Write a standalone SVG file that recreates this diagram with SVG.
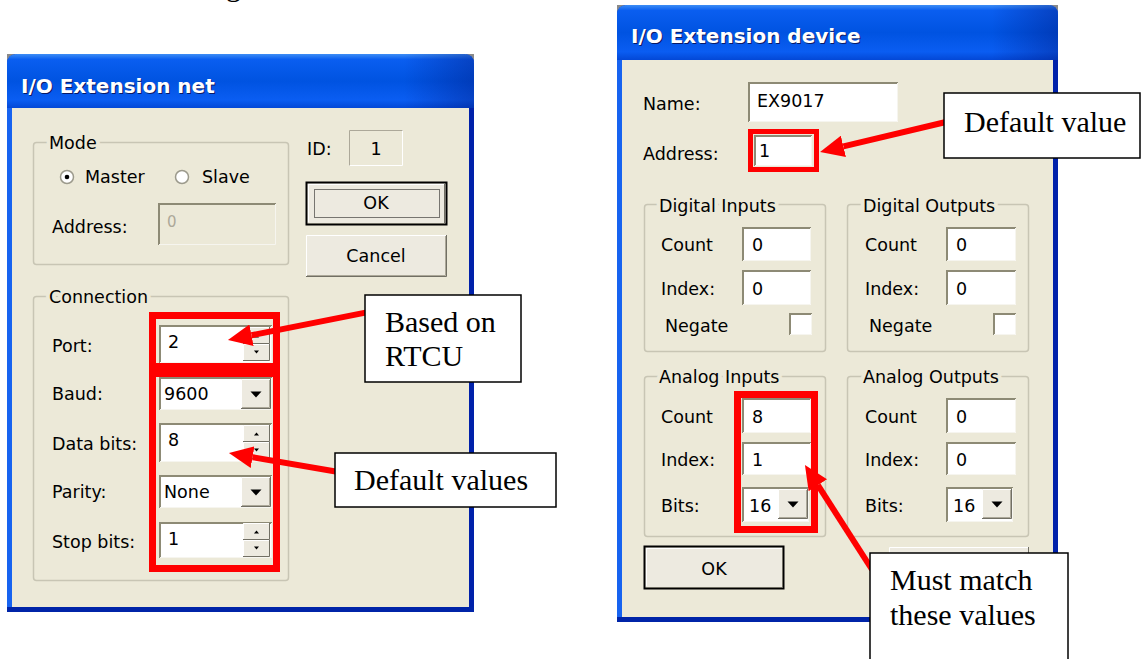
<svg xmlns="http://www.w3.org/2000/svg" xmlns:xlink="http://www.w3.org/1999/xlink" width="1141" height="659" viewBox="0 0 1141 659">
<defs>
<style>
.dlg text{font-family:"DejaVu Sans","Liberation Sans",sans-serif;font-size:17.5px;fill:#000}
.dlg text.ttl{font-weight:bold;font-size:20px;fill:#fff}
.dlg text.tsh{font-weight:bold;font-size:20px;fill:#0A1A66}
.dlg text.dis{fill:#ACA899}
.dlg text.c{text-anchor:middle}
.gl{paint-order:stroke;stroke:#ECE9D8;stroke-width:8px;stroke-linejoin:round}
.frame{fill:#0A48E0}
.fl{fill:#1763F0}
.fr{fill:#0021AA}
.fb{fill:#0024A8}
.body{fill:#ECE9D8}
.corner{fill:#8A8A8A}
.grp{fill:none;stroke:#C8C5B4;stroke-width:1.5}
.ed{fill:#fff}
.edd{fill:#ECE9D8}
.skd{fill:none;stroke:#8D8A75;stroke-width:2}
.skl{fill:none;stroke:#F6F5EF;stroke-width:1}
.bt{fill:#EDEAE0}
.btd{fill:#EDEAE0;stroke:#000;stroke-width:2}
.bhl{fill:none;stroke:#fff;stroke-width:1}
.bsh{fill:none;stroke:#716F64;stroke-width:1}
.bsh2{fill:none;stroke:#ACA899;stroke-width:1}
.tri{fill:#000}
.focus{fill:none;stroke:#000;stroke-width:1;stroke-dasharray:1 1}
.radio{fill:#fff;stroke:#9C9A8C;stroke-width:1.5}
.hl{fill:none;stroke:#FF0000;stroke-width:7}
.hl5{fill:none;stroke:#FF0000;stroke-width:5}
.cn{fill:none;stroke:#FF0000;stroke-width:6;marker-end:url(#ah)}
.co rect{fill:#fff;stroke:#000;stroke-width:1.5}
.co text,.frag{font-family:"Liberation Serif","Times New Roman",serif;font-size:30px;fill:#000}
</style>
<linearGradient id="tb" x1="0" y1="0" x2="0" y2="1">
<stop offset="0" stop-color="#3D8DF5"/>
<stop offset="0.1" stop-color="#0A5EF0"/>
<stop offset="0.5" stop-color="#0053E1"/>
<stop offset="0.85" stop-color="#0A5DF2"/>
<stop offset="1" stop-color="#0348D6"/>
</linearGradient>
<linearGradient id="tbr" x1="0" y1="0" x2="1" y2="0">
<stop offset="0" stop-color="#001070" stop-opacity="0"/>
<stop offset="0.85" stop-color="#001070" stop-opacity="0"/>
<stop offset="1" stop-color="#001070" stop-opacity="0.35"/>
</linearGradient>
<marker id="ah" markerUnits="userSpaceOnUse" markerWidth="24" markerHeight="22" refX="0" refY="11" orient="auto" viewBox="0 0 24 22">
<path d="M0,0 L24,11 L0,22 Z" fill="#FF0000"/>
</marker>
<g id="spinBtns">
<rect class="bt" x="0" y="0" width="27" height="17"/>
<path class="bhl" d="M0.5,16.5V0.5H26.5"/>
<path class="bsh" d="M0,16.5H26.5V0"/>
<path class="tri" d="M11,10.5h5l-2.5,-3z"/>
<rect class="bt" x="0" y="17" width="27" height="17"/>
<path class="bhl" d="M0.5,33.5V17.5H26.5"/>
<path class="bsh" d="M0,33.5H26.5V17"/>
<path class="tri" d="M11,23.5h5l-2.5,3z"/>
</g>
<g id="dropBtn">
<rect class="bt" x="0" y="0" width="30" height="30"/>
<path class="bhl" d="M0.5,29.5V0.5H29.5"/>
<path class="bsh" d="M0,29.5H29.5V0"/>
<path class="bsh2" d="M1,28.5H28.5V1"/>
<path class="tri" d="M9.5,12.5h11l-5.5,6z"/>
</g>
</defs>
<rect x="0" y="0" width="1141" height="659" fill="#fff"/>
<text class="frag" x="226" y="-4">g</text>

<g id="dlg-net" class="dlg">
<rect class="corner" x="7" y="54" width="8" height="8"/>
<rect class="corner" x="466" y="54" width="8" height="8"/>
<path class="frame" d="M7,612V64Q7,54 17,54H464Q474,54 474,64V612Z"/>
<path d="M7,108V64Q7,54 17,54H464Q474,54 474,64V108Z" fill="url(#tb)"/>
<path d="M7,108V64Q7,54 17,54H464Q474,54 474,64V108Z" fill="url(#tbr)"/>
<rect class="fl" x="7" y="108" width="5" height="504"/>
<rect class="fr" x="469" y="108" width="5" height="504"/>
<rect class="fb" x="7" y="607" width="467" height="5"/>
<rect class="body" x="12" y="108" width="457" height="499"/>
<text class="tsh" x="22" y="94">I/O Extension net</text>
<text class="ttl" x="21" y="93">I/O Extension net</text>

<rect class="grp" x="33.5" y="142.5" width="255" height="122" rx="3"/>
<text class="gl" x="49" y="149">Mode</text>
<circle class="radio" cx="67" cy="177" r="6.5"/>
<circle cx="67" cy="177" r="2.3" fill="#000"/>
<text x="85" y="183">Master</text>
<circle class="radio" cx="182" cy="177" r="6.5"/>
<text x="202" y="183">Slave</text>
<text x="52" y="233">Address:</text>
<rect class="edd" x="158" y="203" width="118" height="42"/>
<path class="skd" d="M159,245V204H276"/>
<path class="skl" d="M159,244.5H275.5V204"/>
<text class="dis" x="167" y="227" style="font-size:15px">0</text>

<text x="307" y="155">ID:</text>
<rect class="edd" x="349" y="130" width="54" height="36"/>
<path fill="none" stroke="#ACA899" d="M349.5,166V130.5H403"/>
<path fill="none" stroke="#fff" d="M349.5,165.5H402.5V130.5"/>
<text class="c" x="376" y="155">1</text>

<rect class="btd" x="306.5" y="182.5" width="140" height="42"/>
<path class="bhl" d="M308.5,222V184.5H444"/>
<path class="bsh" d="M308,223.5H444.5V184"/>
<rect class="focus" x="314.5" y="189.5" width="125" height="28"/>
<text class="c" x="376" y="209">OK</text>

<rect class="bt" x="306" y="235" width="141" height="42"/>
<path class="bhl" d="M306.5,276V235.5H446"/>
<path class="bsh" d="M306,276.5H446.5V235"/>
<path class="bsh2" d="M307,275.5H445.5V236"/>
<text class="c" x="376" y="262">Cancel</text>

<rect class="grp" x="33.5" y="296.5" width="255" height="284" rx="3"/>
<text class="gl" x="49" y="303">Connection</text>

<text x="52" y="352">Port:</text>
<rect class="ed" x="159" y="325" width="113" height="38"/>
<path class="skd" d="M160,363V326H272"/>
<path class="skl" d="M160,362.5H271.5V326"/>
<text x="168" y="348">2</text>
<use xlink:href="#spinBtns" href="#spinBtns" x="243" y="327"/>

<text x="52" y="400">Baud:</text>
<rect class="ed" x="159" y="377" width="113" height="33"/>
<path class="skd" d="M160,410V378H272"/>
<path class="skl" d="M160,409.5H271.5V378"/>
<text x="164" y="400">9600</text>
<use xlink:href="#dropBtn" href="#dropBtn" x="241" y="379"/>

<text x="52" y="450">Data bits:</text>
<rect class="ed" x="159" y="423" width="113" height="39"/>
<path class="skd" d="M160,462V424H272"/>
<path class="skl" d="M160,461.5H271.5V424"/>
<text x="168" y="446">8</text>
<use xlink:href="#spinBtns" href="#spinBtns" x="243" y="425"/>

<text x="52" y="498">Parity:</text>
<rect class="ed" x="159" y="475" width="113" height="33"/>
<path class="skd" d="M160,508V476H272"/>
<path class="skl" d="M160,507.5H271.5V476"/>
<text x="164" y="498">None</text>
<use xlink:href="#dropBtn" href="#dropBtn" x="241" y="477"/>

<text x="52" y="548">Stop bits:</text>
<rect class="ed" x="159" y="522" width="113" height="36"/>
<path class="skd" d="M160,558V523H272"/>
<path class="skl" d="M160,557.5H271.5V523"/>
<text x="168" y="545">1</text>
<use xlink:href="#spinBtns" href="#spinBtns" x="243" y="523"/>
</g>

<g id="dlg-device" class="dlg">
<rect class="corner" x="617" y="5" width="8" height="8"/>
<rect class="corner" x="1050" y="5" width="8" height="8"/>
<path class="frame" d="M617,622V15Q617,5 627,5H1048Q1058,5 1058,15V622Z"/>
<path d="M617,60V15Q617,5 627,5H1048Q1058,5 1058,15V60Z" fill="url(#tb)"/>
<path d="M617,60V15Q617,5 627,5H1048Q1058,5 1058,15V60Z" fill="url(#tbr)"/>
<rect class="fl" x="617" y="60" width="5" height="562"/>
<rect class="fr" x="1053" y="60" width="5" height="562"/>
<rect class="fb" x="617" y="617" width="441" height="5"/>
<rect class="body" x="622" y="60" width="431" height="557"/>
<text class="tsh" x="632" y="44">I/O Extension device</text>
<text class="ttl" x="631" y="43">I/O Extension device</text>

<text x="643" y="110">Name:</text>
<rect class="ed" x="748" y="82" width="150" height="40"/>
<path class="skd" d="M749,122V83H898"/>
<path class="skl" d="M749,121.5H897.5V83"/>
<text x="757" y="107">EX9017</text>

<text x="643" y="160">Address:</text>
<rect class="ed" x="754" y="135" width="58" height="31"/>
<path class="skd" d="M755,166V136H812"/>
<path class="skl" d="M755,165.5H811.5V136"/>
<text x="759" y="157">1</text>

<rect class="grp" x="644.5" y="204.5" width="181" height="147" rx="3"/>
<text class="gl" x="659" y="212">Digital Inputs</text>
<text x="661" y="251">Count</text>
<rect class="ed" x="742" y="227" width="69" height="34"/>
<path class="skd" d="M743,261V228H811"/>
<path class="skl" d="M743,260.5H810.5V228"/>
<text x="752" y="251">0</text>
<text x="661" y="295">Index:</text>
<rect class="ed" x="742" y="270" width="69" height="35"/>
<path class="skd" d="M743,305V271H811"/>
<path class="skl" d="M743,304.5H810.5V271"/>
<text x="752" y="295">0</text>
<text x="665" y="332">Negate</text>
<rect class="ed" x="789" y="313" width="23" height="22"/>
<path class="skd" d="M790,335V314H812"/>
<path class="skl" d="M790,334.5H811.5V314"/>

<rect class="grp" x="847.5" y="204.5" width="181" height="147" rx="3"/>
<text class="gl" x="863" y="212">Digital Outputs</text>
<text x="865" y="251">Count</text>
<rect class="ed" x="946" y="227" width="70" height="34"/>
<path class="skd" d="M947,261V228H1016"/>
<path class="skl" d="M947,260.5H1015.5V228"/>
<text x="956" y="251">0</text>
<text x="865" y="295">Index:</text>
<rect class="ed" x="946" y="270" width="70" height="35"/>
<path class="skd" d="M947,305V271H1016"/>
<path class="skl" d="M947,304.5H1015.5V271"/>
<text x="956" y="295">0</text>
<text x="869" y="332">Negate</text>
<rect class="ed" x="993" y="313" width="23" height="22"/>
<path class="skd" d="M994,335V314H1016"/>
<path class="skl" d="M994,334.5H1015.5V314"/>

<rect class="grp" x="644.5" y="376.5" width="181" height="160" rx="3"/>
<text class="gl" x="659" y="383">Analog Inputs</text>
<text x="661" y="423">Count</text>
<rect class="ed" x="742" y="398" width="69" height="35"/>
<path class="skd" d="M743,433V399H811"/>
<path class="skl" d="M743,432.5H810.5V399"/>
<text x="752" y="423">8</text>
<text x="661" y="466">Index:</text>
<rect class="ed" x="742" y="442" width="69" height="33"/>
<path class="skd" d="M743,475V443H811"/>
<path class="skl" d="M743,474.5H810.5V443"/>
<text x="752" y="466">1</text>
<text x="661" y="512">Bits:</text>
<rect class="ed" x="742" y="487" width="67" height="35"/>
<path class="skd" d="M743,522V488H809"/>
<path class="skl" d="M743,521.5H808.5V488"/>
<text x="749" y="512">16</text>
<use xlink:href="#dropBtn" href="#dropBtn" x="778" y="489"/>

<rect class="grp" x="847.5" y="376.5" width="181" height="160" rx="3"/>
<text class="gl" x="863" y="383">Analog Outputs</text>
<text x="865" y="423">Count</text>
<rect class="ed" x="946" y="398" width="70" height="35"/>
<path class="skd" d="M947,433V399H1016"/>
<path class="skl" d="M947,432.5H1015.5V399"/>
<text x="956" y="423">0</text>
<text x="865" y="466">Index:</text>
<rect class="ed" x="946" y="442" width="70" height="33"/>
<path class="skd" d="M947,475V443H1016"/>
<path class="skl" d="M947,474.5H1015.5V443"/>
<text x="956" y="466">0</text>
<text x="865" y="512">Bits:</text>
<rect class="ed" x="946" y="487" width="67" height="35"/>
<path class="skd" d="M947,522V488H1013"/>
<path class="skl" d="M947,521.5H1012.5V488"/>
<text x="953" y="512">16</text>
<use xlink:href="#dropBtn" href="#dropBtn" x="982" y="489"/>

<rect class="btd" x="644.5" y="546.5" width="139" height="42"/>
<path class="bhl" d="M646.5,586V548.5H782"/>
<path class="bsh" d="M646,587.5H782.5V548"/>
<text class="c" x="714" y="575">OK</text>

<rect class="bt" x="889" y="547" width="140" height="40"/>
<path class="bhl" d="M889.5,586V547.5H1028"/>
<path class="bsh" d="M889,586.5H1028.5V547"/>
</g>

<g id="highlights">
<rect class="hl" x="152.5" y="315.5" width="124" height="51"/>
<rect class="hl" x="152.5" y="373.5" width="124" height="195"/>
<rect class="hl5" x="750.5" y="131.5" width="66" height="38"/>
<rect class="hl" x="737.5" y="394.5" width="77" height="135"/>
</g>

<g id="connectors">
<path class="cn" d="M368,312.1L251.5,335.3"/>
<path class="cn" d="M340,472.3L252.6,457.2"/>
<path class="cn" d="M948,121.5L843.4,146.4"/>
<path class="cn" d="M872,569.5L817.9,485.2"/>
</g>

<g id="callout-rtcu" class="co">
<rect x="365" y="295" width="156" height="87"/>
<text x="385" y="332">Based on</text>
<text x="385" y="366">RTCU</text>
</g>
<g id="callout-defaults" class="co">
<rect x="335" y="453" width="221" height="54"/>
<text x="354" y="490">Default values</text>
</g>
<g id="callout-default" class="co">
<rect x="944" y="93" width="196" height="65"/>
<text x="964" y="132">Default value</text>
</g>
<g id="callout-match" class="co">
<rect x="870" y="553" width="198" height="112"/>
<text x="890" y="590">Must match</text>
<text x="890" y="625">these values</text>
</g>
</svg>
